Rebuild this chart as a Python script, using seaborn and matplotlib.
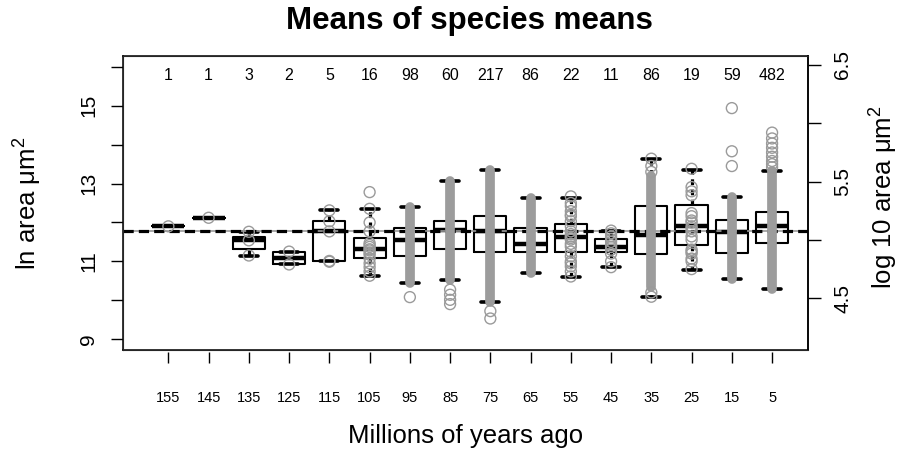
import matplotlib
matplotlib.use("Agg")
import numpy as np
import pandas as pd
import matplotlib.pyplot as plt
import seaborn as sns

# age bins (Ma) and number of species in each
ages = [155, 145, 135, 125, 115, 105, 95, 85, 75, 65, 55, 45, 35, 25, 15, 5]
counts = [1, 1, 3, 2, 5, 16, 98, 60, 217, 86, 22, 11, 86, 19, 59, 482]

# boxplot statistics (ln area um^2)
whisker_low = [11.90, 12.12, 11.15, 10.92, 11.00, 10.63, 10.45, 10.52, 9.96, 10.71, 10.61, 10.85, 10.09, 10.78, 10.55, 10.29]
box_low = [11.90, 12.12, 11.33, 10.92, 11.01, 11.08, 11.14, 11.32, 11.24, 11.24, 11.24, 11.24, 11.20, 11.43, 11.21, 11.47]
medians = [11.90, 12.12, 11.54, 11.08, 11.77, 11.31, 11.54, 11.80, 11.77, 11.44, 11.62, 11.37, 11.69, 11.90, 11.75, 11.90]
box_high = [11.90, 12.12, 11.63, 11.25, 12.03, 11.60, 11.86, 12.05, 12.16, 11.86, 11.97, 11.57, 12.42, 12.44, 12.06, 12.27]
whisker_high = [11.90, 12.12, 11.76, 11.25, 12.31, 12.35, 12.40, 13.06, 13.35, 12.63, 12.63, 11.79, 13.64, 13.36, 12.65, 13.32]

# ranges where the species points overlap into a solid grey column
column_low = [None, None, None, None, None, None, 10.45, 10.52, 9.96, 10.71, None, None, 10.35, None, 10.55, 10.29]
column_high = [None, None, None, None, None, None, 12.40, 13.06, 13.35, 12.63, None, None, 13.20, None, 12.65, 13.32]

# individually visible species points
species_points = [
    [11.90],
    [12.12],
    [11.15, 11.54, 11.76],
    [10.92, 11.25],
    [10.99, 11.01, 11.77, 12.03, 12.31],
    [12.78, 12.35, 12.00, 11.77, 11.47, 11.42, 11.37, 11.31, 11.28, 11.22, 11.17, 11.07, 10.95, 10.85, 10.74, 10.63],
    [10.08],
    [10.27, 10.14, 10.01, 9.90],
    [9.72, 9.53],
    [],
    [12.67, 12.50, 12.42, 12.29, 12.20, 12.16, 12.03, 11.90, 11.77, 11.70, 11.64, 11.60, 11.56, 11.45, 11.38,
     11.25, 11.13, 11.00, 10.95, 10.87, 10.74, 10.61],
    [11.79, 11.72, 11.64, 11.57, 11.50, 11.42, 11.37, 11.30, 11.20, 11.00, 10.85],
    [13.64, 13.45, 13.30, 10.20, 10.09],
    [13.38, 12.91, 12.80, 12.70, 12.24, 12.16, 12.05, 12.00, 11.90, 11.85, 11.77, 11.64, 11.55, 11.30,
     11.25, 11.20, 11.07, 11.00, 10.80],
    [14.94, 13.83, 13.45],
    [14.31, 14.16, 14.03, 13.92, 13.80, 13.69, 13.58, 13.50, 13.42],
]

grand_mean = 11.77

sns.set_style("white")
plt.rcParams['font.family'] = ['Liberation Sans', 'DejaVu Sans']
plt.rcParams['mathtext.default'] = 'regular'
plt.rcParams['text.color'] = 'black'
plt.rcParams['axes.labelcolor'] = 'black'
plt.rcParams['xtick.color'] = 'black'
plt.rcParams['ytick.color'] = 'black'

fig = plt.figure(figsize=(9.01, 4.49), dpi=100)
ax = fig.add_axes([123.3 / 901, 1 - 350 / 449, 685 / 901, 294 / 449])

positions = np.arange(len(ages))

stats = [
    dict(med=m, q1=a, q3=b, whislo=lo, whishi=hi, fliers=[])
    for lo, a, m, b, hi in zip(whisker_low, box_low, medians, box_high, whisker_high)
]
ax.bxp(
    stats, positions=positions, widths=0.8, capwidths=0.45,
    showfliers=False, manage_ticks=False,
    boxprops=dict(color='black', linewidth=1.5),
    medianprops=dict(color='black', linewidth=3.2, solid_capstyle='butt'),
    whiskerprops=dict(color='black', linewidth=2.3, linestyle=(0, (1.8, 1.4))),
    capprops=dict(color='black', linewidth=2.6),
    zorder=2,
)

# overall mean
ax.axhline(grand_mean, color='#9a9a9a', linewidth=1.2, zorder=3)
ax.axhline(grand_mean, color='black', linewidth=2.3, linestyle=(0, (3.2, 1.6)), zorder=3)

# dense point columns
for i, (lo, hi) in enumerate(zip(column_low, column_high)):
    if lo is None:
        continue
    ax.vlines(i, lo, hi, color='#9c9c9c', linewidth=7.0, capstyle='round', zorder=4)

pts = pd.DataFrame({
    'pos': [i for i, vals in enumerate(species_points) for _ in vals],
    'value': [v for vals in species_points for v in vals],
})
sns.scatterplot(data=pts, x='pos', y='value', ax=ax, marker='o', s=62,
                color='none', edgecolor='#9a9a9a', linewidth=1.0, zorder=5, legend=False)

# species counts across the top
for i, n in enumerate(counts):
    ax.text(i, 15.77, str(n), ha='center', va='center', fontsize=11.5)

ax.set_xlim(-1.12, 15.9)
ax.set_ylim(8.72, 16.28)
ax.set_xlabel('')
ax.set_ylabel('')
ax.set_xticks([])

for side in ax.spines:
    ax.spines[side].set_color('black')
    ax.spines[side].set_linewidth(1.1)

ax.set_yticks(range(9, 17))
ax.set_yticklabels([str(v) if v % 2 == 1 else '' for v in range(9, 17)])
ax.tick_params(axis='y', left=True, length=9, width=1.0, pad=9, labelsize=15,
               color='black', direction='out')
plt.setp(ax.get_yticklabels(), rotation=90, va='center')

# age axis drawn a little below the box, as in R
sec = ax.secondary_xaxis(-0.008)
sec.set_xticks(positions)
sec.set_xticklabels([str(a) for a in ages])
sec.spines['bottom'].set_visible(False)
sec.tick_params(axis='x', length=8, width=1.0, pad=20, labelsize=10.5, color='black')

# right axis in log10 units
ax2 = ax.twinx()
ax2.set_ylim(4.057, 6.577)
ax2.set_yticks([4.5, 5.0, 5.5, 6.0, 6.5])
ax2.set_yticklabels(['4.5', '', '5.5', '', '6.5'])
ax2.tick_params(axis='y', right=True, length=9, width=1.0, pad=9, labelsize=15,
                color='black', direction='out')
plt.setp(ax2.get_yticklabels(), rotation=90, va='center')
ax2.spines['right'].set_color('black')
ax2.spines['right'].set_linewidth(1.1)

fig.text(469 / 901, 1 - 29.5 / 449, 'Means of species means', ha='center',
         va='baseline', fontsize=22.5, fontweight='bold')
fig.text(466 / 901, 1 - 443 / 449, 'Millions of years ago', ha='center',
         va='baseline', fontsize=18.5)
fig.text(28 / 901, 1 - 203 / 449, 'ln area μm$^2$', ha='center', va='center',
         rotation=90, fontsize=18.5)
fig.text(884 / 901, 1 - 197 / 449, 'log 10 area μm$^2$', ha='center', va='center',
         rotation=90, fontsize=18.5)

fig.savefig('out.png', dpi=100)
